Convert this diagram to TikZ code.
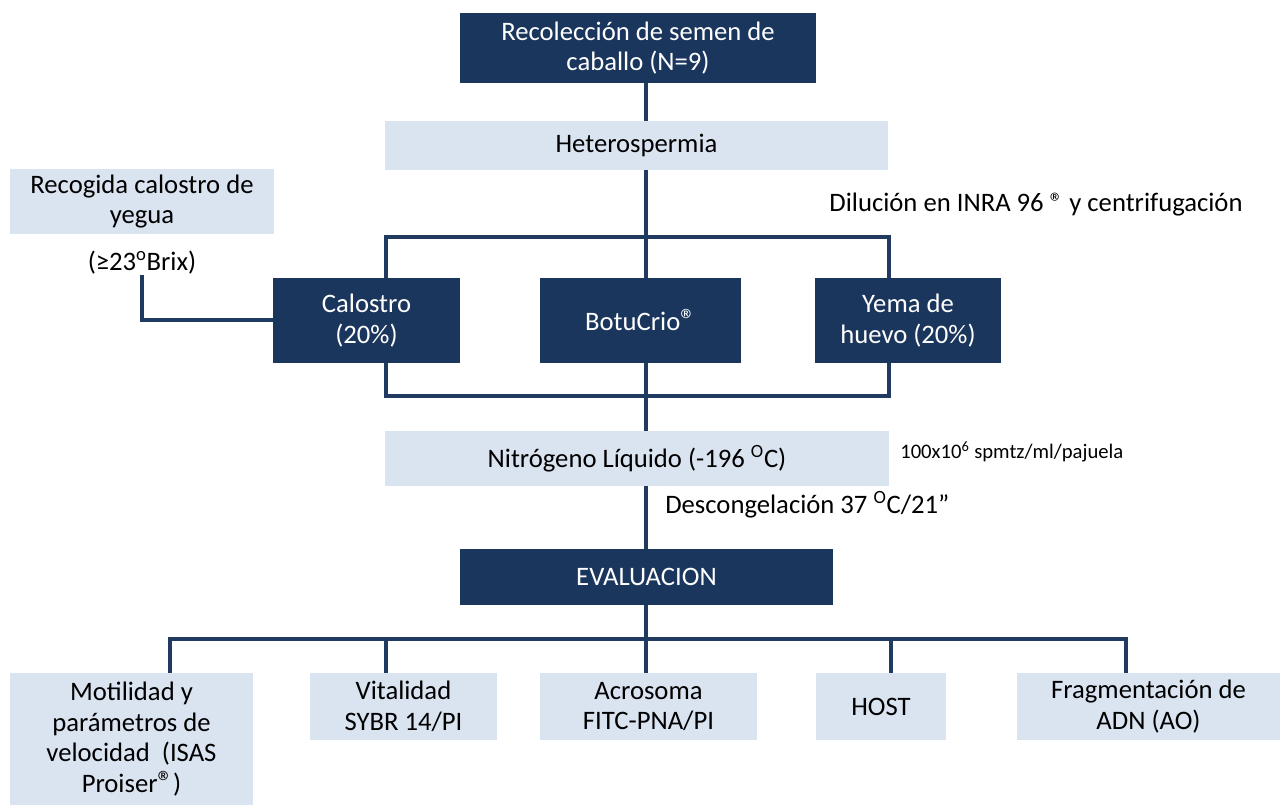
\documentclass[tikz,border=0pt]{standalone}
\usepackage{fontspec}
\setmainfont{Carlito}
\usetikzlibrary{positioning,backgrounds}
\definecolor{semnavy}{HTML}{1B365D}
\definecolor{semline}{HTML}{203A60}
\definecolor{sempale}{HTML}{DAE3F0}
\newcommand{\regd}{{\fontsize{23}{23}\selectfont ®}}
\tikzset{
  font=\fontsize{20}{23}\selectfont,
  size/.style 2 args={minimum width=#1*0.75pt,minimum height=#2*0.75pt},
  darkbox/.style={fill=semnavy,text=white,inner sep=2pt,align=center},
  palebox/.style={fill=sempale,text=black,inner sep=2pt,align=center},
  link/.style={draw=semline,line width=3pt},
  note/.style={inner sep=0pt,align=center},
  smallnote/.style={inner sep=0pt,font=\fontsize{15.5}{18}\selectfont},
}
\begin{document}
\begin{tikzpicture}[x=0.75pt,y=-0.75pt]
  \useasboundingbox (0,0) rectangle (1281,805);

  % top of the flow
  \node[darkbox,size={356}{70}] (recol) at (638,48) {Recolección de semen de\\caballo (N=9)};
  \node[palebox,size={503}{49}] (hetero) at (636.5,145.5) {Heterospermia};
  \node[palebox,size={264}{65}] (recog) at (142,201.5) {Recogida calostro de\\yegua};
  \node[note] (brix) at (142,263) {(≥23\textsuperscript{o}Brix)};
  \node[note] (dilu) at (1036,205) {Dilución en INRA 96 ® y centrifugación};

  % the three extenders
  \node[darkbox,size={187}{85}] (calos) at (366.5,320.5) {Calostro\\(20\%)};
  \node[darkbox,size={201}{85}] (botu) at (640.5,320.5) {BotuCrio\regd};
  \node[darkbox,size={186}{85}] (yema) at (908,320.5) {Yema de\\huevo (20\%)};

  \node[palebox,size={504}{55}] (nitro) at (637,458.5) {Nitrógeno Líquido (-196 \textsuperscript{O}C)};
  \node[smallnote,anchor=west] (dose) at (900,452) {100x10\textsuperscript{6} spmtz/ml/pajuela};
  \node[note,anchor=west] (thaw) at (665,505) {Descongelación 37 \textsuperscript{O}C/21”};
  \node[darkbox,size={373}{56}] (eval) at (646.5,577) {EVALUACION};

  % evaluation row
  \node[palebox,size={243}{132}] (motil) at (131.5,739) {Motilidad y\\parámetros de\\velocidad~ (ISAS\\Proiser\regd)};
  \node[palebox,size={187}{67}] (vital) at (403.5,706.5) {Vitalidad\\SYBR 14/PI};
  \node[palebox,size={217}{67}] (acros) at (648.5,706.5) {Acrosoma\\FITC-PNA/PI};
  \node[palebox,size={130}{67}] (host) at (881,706.5) {HOST};
  \node[palebox,size={263}{67}] (frag) at (1148.5,706.5) {Fragmentación de\\ADN (AO)};

  \coordinate (splitL) at (386,237);
  \coordinate (splitC) at (646,237);
  \coordinate (splitR) at (889,237);
  \coordinate (joinL) at (386,396);
  \coordinate (joinC) at (646,396);
  \coordinate (joinR) at (889,396);
  \coordinate (busL) at (170,639);
  \coordinate (busC) at (646,639);
  \coordinate (busR) at (1126,639);
  \coordinate (tapV) at (386,639);
  \coordinate (tapH) at (891,639);

  \begin{scope}[on background layer]
    \draw[link] (recol.south -| splitC) -- (splitC);
    \draw[link] (calos.north -| splitL) |- (splitR) -- (yema.north -| splitR);
    \draw[link] (splitC) -- (botu.north -| splitC);
    \draw[link] (brix.south) |- (calos.west);
    \draw[link] (calos.south -| joinL) |- (joinR) -- (yema.south -| joinR);
    \draw[link] (botu.south -| joinC) -- (nitro.north -| joinC);
    \draw[link] (nitro.south -| joinC) -- (eval.north -| joinC);
    \draw[link] (eval.south -| busC) -- (acros.north -| busC);
    \draw[link] (motil.north -| busL) |- (busR) -- (frag.north -| busR);
    \foreach \tgt/\tap in {vital/tapV,host/tapH}
      \draw[link] (\tap) -- (\tgt.north -| \tap);
  \end{scope}
\end{tikzpicture}
\end{document}
